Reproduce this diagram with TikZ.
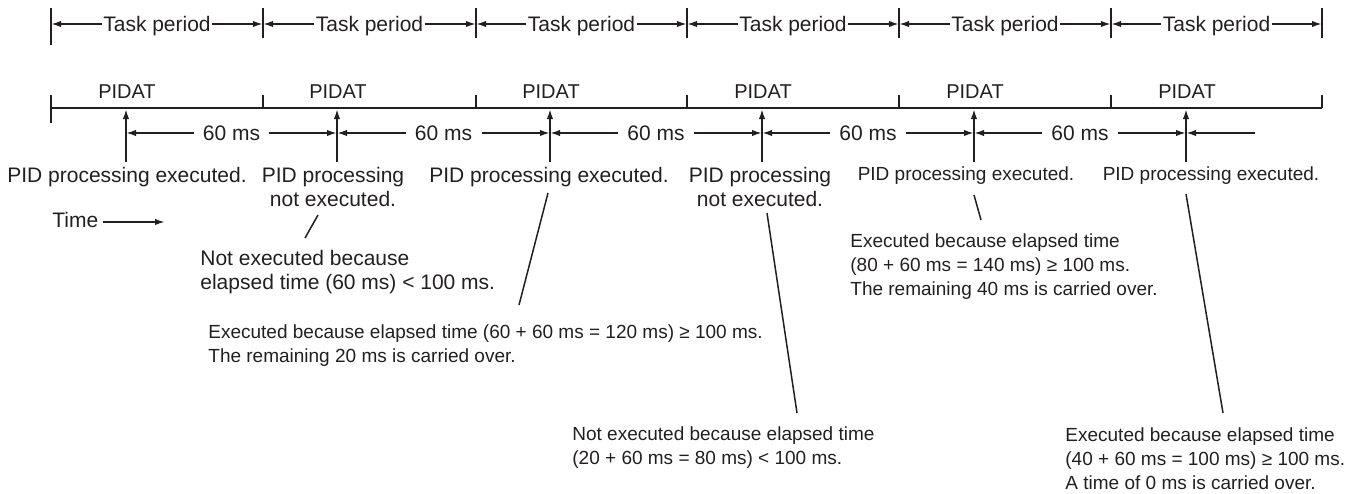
\documentclass[tikz,border=0pt]{standalone}
\usepackage{fontspec}
\setmainfont{Liberation Sans}
\usetikzlibrary{arrows.meta}
\definecolor{ink}{RGB}{35,31,32}
\tikzset{
  every node/.style={text=ink},
  big/.style={inner sep=0pt, font=\fontsize{10.5}{12}\selectfont},
  sml/.style={inner sep=0pt, font=\fontsize{9.5}{12}\selectfont},
  tpnode/.style={big, inner xsep=0.5pt, text height=7.5pt, text depth=0pt},
  msnode/.style={big, inner xsep=4.5pt, text height=7.5pt, text depth=0pt},
  pidat/.style={inner sep=0pt, font=\fontsize{10}{12}\selectfont, text height=7.2pt, text depth=0pt},
  arr/.style={draw=ink, line width=0.9pt, -{Latex[length=5pt,width=3.2pt]}},
  barline/.style={draw=ink, line width=1.3pt},
  leader/.style={draw=ink, line width=0.75pt},
}
\begin{document}
\begin{tikzpicture}[x=0.5pt,y=-0.5pt]
\useasboundingbox (0,0) rectangle (1364,493);

% ---- Task period row ----
\foreach \i/\x in {0/51,1/263,2/476,3/687,4/899,5/1111,6/1322}{
  \coordinate (bt\i) at (\x,24);
  \coordinate (bu\i) at (\x,8);
  \coordinate (bd\i) at (\x,38);
}
\coordinate (bd0) at (51,45);
\foreach \i in {0,...,6}{ \draw[barline] (bu\i) -- (bd\i); }
\foreach \i/\j/\x in {1/0/157,2/1/369.5,3/2/581.5,4/3/793,5/4/1005,6/5/1216.5}{
  \node[tpnode] (tp\i) at (\x,24) {Task period};
  \draw[arr] (tp\i.west) -- (bt\j);
  \draw[arr] (tp\i.east) -- (bt\i);
}

% ---- Time line ----
\foreach \i/\x in {0/51,1/263,2/476,3/687,4/899,5/1111,6/1322}{
  \coordinate (t\i) at (\x,108);
  \coordinate (tu\i) at (\x,95);
}
\coordinate (tdown) at (51,123);
\draw[barline] (t0) -- (t6);
\draw[barline] (tu0) -- (tdown);
\foreach \i in {1,...,6}{ \draw[barline] (tu\i) -- (t\i); }

% ---- PIDAT, execution arrows, 60 ms ----
\foreach \i/\x in {1/126,2/337,3/550,4/762,5/974,6/1186}{
  \node[pidat] (pa\i) at (\x+1,91) {PIDAT};
  \coordinate (s\i) at (\x,162);
  \coordinate (h\i) at (\x,109);
  \coordinate (m\i) at (\x,133);
  \draw[arr] (s\i) -- (h\i);
}
\foreach \i/\j/\x in {1/2/231.5,2/3/443.5,3/4/656,4/5/868,5/6/1080}{
  \node[msnode] (ms\i) at (\x,133) {60 ms};
  \draw[arr] (ms\i.west) -- (m\i);
  \draw[arr] (ms\i.east) -- (m\j);
}
\coordinate (mend) at (1255,133);
\draw[arr] (mend) -- (m6);

% ---- PID labels ----
\node[big, anchor=north, align=center] (l1) at (127,167) {PID processing executed.};
\node[big, anchor=north, align=center] (l2) at (333,167) {PID processing\\not executed.};
\node[big, anchor=north, align=center] (l3) at (549,167) {PID processing executed.};
\node[big, anchor=north, align=center] (l4) at (760,167) {PID processing\\not executed.};
\node[sml, anchor=north, align=center] (l5) at (966,166.5) {PID processing executed.};
\node[sml, anchor=north, align=center] (l6) at (1211,166.5) {PID processing executed.};

% ---- Time ----
\node[big, anchor=north west] (time) at (52,212) {Time};
\coordinate (ta) at (103,222);
\coordinate (tb) at (165,222);
\draw[arr] (ta) -- (tb);

% ---- explanations ----
\node[big, anchor=north west, align=left] (x2) at (200,250)
  {Not executed because\\elapsed time (60 ms) < 100 ms.};
\node[sml, anchor=north west, align=left] (x3) at (208,324)
  {Executed because elapsed time (60 + 60 ms = 120 ms) ≥ 100 ms.\\The remaining 20 ms is carried over.};
\node[sml, anchor=north west, align=left] (x4) at (572,426)
  {Not executed because elapsed time\\(20 + 60 ms = 80 ms) < 100 ms.};
\node[sml, anchor=north west, align=left] (x5) at (850,233)
  {Executed because elapsed time\\(80 + 60 ms = 140 ms) ≥ 100 ms.\\The remaining 40 ms is carried over.};
\node[sml, anchor=north west, align=left] (x6) at (1065,427)
  {Executed because elapsed time\\(40 + 60 ms = 100 ms) ≥ 100 ms.\\A time of 0 ms is carried over.};

% ---- leaders ----
\coordinate (a2) at (318,215); \coordinate (z2) at (305,238);
\coordinate (a3) at (548,193); \coordinate (z3) at (519,305);
\coordinate (a4) at (767,213); \coordinate (z4) at (797,413);
\coordinate (a5) at (974,195); \coordinate (z5) at (981,220);
\coordinate (a6) at (1186,194); \coordinate (z6) at (1223,413);
\foreach \i in {2,...,6}{ \draw[leader] (a\i) -- (z\i); }
\end{tikzpicture}
\end{document}
